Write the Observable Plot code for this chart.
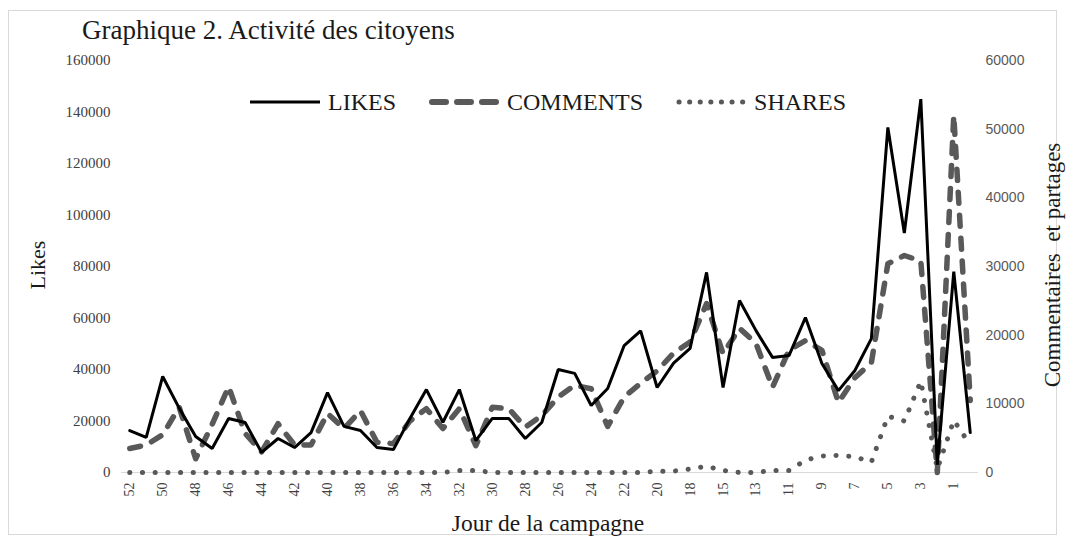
<!DOCTYPE html>
<html>
<head>
<meta charset="utf-8">
<script src="https://cdn.jsdelivr.net/npm/d3@7"></script>
<script src="https://cdn.jsdelivr.net/npm/@observablehq/plot@0.6"></script>
<style>
  body { margin: 0; background: #fff; }
  #wrap { position: relative; width: 1066px; height: 540px; overflow: hidden; font-family: "Liberation Serif", "Times New Roman", serif; color: #1a1a1a; }
  #frame { position: absolute; left: 8px; top: 10px; width: 1049px; height: 525px; border: 1px solid #d9d9d9; box-sizing: border-box; pointer-events: none; }
  #chart { position: absolute; left: 0; top: 0; }
  .lbl { position: absolute; line-height: 1; white-space: nowrap; }
  #title { left: 82px; top: 17px; font-size: 27px; }
  #xlab { left: 0; width: 1096px; text-align: center; top: 512px; font-size: 23.5px; }
  #ylab { left: 38px; top: 265px; font-size: 22px; transform: translate(-50%, -50%) rotate(-90deg); }
  #y2lab { left: 1052px; top: 265px; font-size: 23px; transform: translate(-50%, -50%) rotate(-90deg); }
  #legend { position: absolute; left: 250px; top: 90px; font-size: 24px; line-height: 1; display: flex; align-items: center; }
  #legend .item { display: flex; align-items: center; margin-right: 33px; }
  #legend svg { margin-right: 6px; }
</style>
</head>
<body>
<div id="wrap">
  <div id="chart"></div>
  <div id="frame"></div>
  <div class="lbl" id="title">Graphique 2. Activité des citoyens</div>
  <div id="legend"></div>
  <div class="lbl" id="xlab">Jour de la campagne</div>
  <div class="lbl" id="ylab">Likes</div>
  <div class="lbl" id="y2lab">Commentaires&nbsp; et partages</div>
</div>
<script>
// Day of campaign (countdown), left to right
const days = ["52","51","50","49","48","47","46","45","44","43","42","41","40","39","38","37","36","35","34","33",
              "32","31","30","29","28","27","26","25","24","23","22","21","20","19","18","16","15","14","13","12",
              "11","10","9","8","7","6","5","4","3","2","1","0"];
const xTickLabels = ["52","50","48","46","44","42","40","38","36","34","32","30","28","26","24","22","20","18",
                     "15","13","11","9","7","5","3","1"];

// Likes (left axis)
const likes = [16300,13600,37300,25000,14000,9300,21000,19400,7800,13200,9700,15500,31000,17900,16300,9700,8900,21000,32200,19500,
               32200,12400,21000,21000,13200,19400,40000,38500,26000,32600,49300,55000,33000,42500,48200,77700,33000,66800,55100,44700,
               45400,60200,42300,31800,39600,52000,134000,93000,145000,3000,78000,15500];
// Comments (right axis)
const comments = [3500,4000,5500,9500,2000,7000,12500,5700,3000,7100,4000,4000,8600,6400,9000,4400,4200,7500,9300,6400,
                  9300,3900,9500,9300,6600,8300,11000,12700,12200,6700,11000,13000,14800,17400,19000,24600,17300,21000,18800,12400,
                  17800,19200,17800,10200,13800,16000,30400,31600,30800,0,52000,10500];
// Shares (right axis)
const shares = [0,0,0,0,0,0,0,0,0,0,0,0,0,0,0,0,0,0,0,0,
                300,300,0,0,0,0,0,0,0,0,0,0,200,200,500,900,300,0,0,300,
                300,1800,2400,2500,2300,1500,8200,7500,13300,500,7600,4000];

const leftTicks = [0,20000,40000,60000,80000,100000,120000,140000,160000];
const rightTicks = [0,10000,20000,30000,40000,50000,60000];
const leftMax = 160000, rightMax = 60000;
const ratio = leftMax / rightMax;

const rows = days.map((d, i) => ({day: d, likes: likes[i], comments: comments[i] * ratio, shares: shares[i] * ratio}));

const chart = Plot.plot({
  width: 1066,
  height: 540,
  marginTop: 60,
  marginBottom: 68,
  marginLeft: 121,
  marginRight: 88,
  style: {fontFamily: "Liberation Serif, serif", background: "transparent", color: "#404040"},
  x: {type: "point", domain: days, padding: 0.5, round: false},
  y: {domain: [0, leftMax]},
  marks: [
    Plot.ruleY([0], {stroke: "#d9d9d9", strokeWidth: 1}),
    Plot.line(rows, {x: "day", y: "shares", stroke: "#595959", strokeWidth: 5, strokeDasharray: "0.1,12.6", strokeLinecap: "round"}),
    Plot.line(rows, {x: "day", y: "comments", stroke: "#595959", strokeWidth: 5.5, strokeDasharray: "11,12", strokeLinecap: "round", strokeLinejoin: "round"}),
    Plot.line(rows, {x: "day", y: "likes", stroke: "#000", strokeWidth: 3, strokeLinejoin: "miter"}),
    Plot.axisY({anchor: "left", ticks: leftTicks, tickSize: 0, tickPadding: 11, tickFormat: d => String(d), label: null,
                fontSize: 15, fontFamily: "Liberation Serif, serif", fill: "#404040"}),
    Plot.axisY({anchor: "right", ticks: rightTicks.map(v => v * ratio), tickSize: 0, tickPadding: 7,
                tickFormat: d => String(Math.round(d / ratio)), label: null, textAnchor: "start",
                fontSize: 14, fontFamily: "Liberation Sans, sans-serif", fill: "#595959"}),
    Plot.axisX({ticks: xTickLabels, tickSize: 0, tickPadding: 10, tickRotate: -90, label: null,
                fontSize: 14, fontFamily: "Liberation Serif, serif", fill: "#404040"})
  ]
});
document.getElementById("chart").appendChild(chart);

// Legend
const legendItems = [
  {name: "LIKES", stroke: "#000", width: 3, dash: null, cap: "butt"},
  {name: "COMMENTS", stroke: "#595959", width: 6, dash: "14,11", cap: "round"},
  {name: "SHARES", stroke: "#595959", width: 5, dash: "0.1,10.5", cap: "round"}
];
const legend = document.getElementById("legend");
legendItems.forEach((it, k) => {
  const div = document.createElement("div");
  div.className = "item";
  const ns = "http://www.w3.org/2000/svg";
  const svg = document.createElementNS(ns, "svg");
  svg.setAttribute("width", 72); svg.setAttribute("height", 14);
  const ln = document.createElementNS(ns, "line");
  ln.setAttribute("x1", it.cap === "round" ? 3 : 0); ln.setAttribute("x2", it.cap === "round" ? 69 : 70);
  ln.setAttribute("y1", 7); ln.setAttribute("y2", 7);
  ln.setAttribute("stroke", it.stroke); ln.setAttribute("stroke-width", it.width);
  ln.setAttribute("stroke-linecap", it.cap);
  if (it.dash) ln.setAttribute("stroke-dasharray", it.dash);
  svg.appendChild(ln);
  const sp = document.createElement("span");
  sp.textContent = it.name;
  div.appendChild(svg); div.appendChild(sp);
  legend.appendChild(div);
});
</script>
</body>
</html>
